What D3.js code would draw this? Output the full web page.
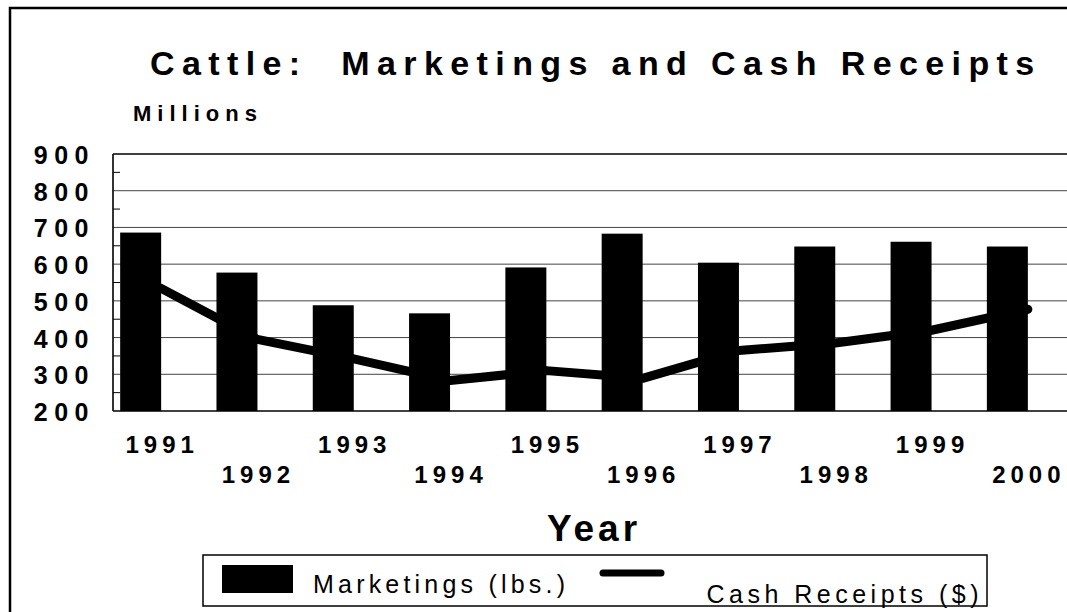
<!DOCTYPE html>
<html>
<head>
<meta charset="utf-8">
<script src="https://cdn.jsdelivr.net/npm/d3@7"></script>
<style>
  body { margin: 0; background: #fff; }
  text { font-family: 'Liberation Sans', Arial, Helvetica, sans-serif; fill: #000; }
  .bold { font-weight: bold; }
</style>
</head>
<body>
<script>
// ! Data
const years = ['1991', '1992', '1993', '1994', '1995', '1996', '1997', '1998', '1999', '2000'];
const marketings = [686, 577, 488, 466, 591, 683, 604, 648, 661, 648];
const cashReceipts = [534, 395, 342, 283, 310, 289, 365, 385, 420, 477];
const yTicks = [200, 300, 400, 500, 600, 700, 800, 900];
const yMinorTicks = [250, 350, 450, 550, 650, 750, 850];
const seriesNames = ['Marketings (lbs.)', 'Cash Receipts ($)'];

// * Size of the page
const width = 1067;
const height = 612;

const svg = d3
  .select('body')
  .append('svg')
  .attr('width', width)
  .attr('height', height);

// ! Plot area (runs past the right edge, like the scan)
const plot = { left: 113, right: 1076, top: 154, bottom: 411 };

const x = d3.scaleBand().domain(years).range([plot.left, plot.right]);
// * Two slots per year, the bar sits in the first one
const xSub = d3
  .scaleBand()
  .domain(seriesNames)
  .range([0, x.bandwidth()])
  .paddingOuter(0.175);
const y = d3.scaleLinear().domain([200, 900]).range([plot.bottom, plot.top]);

// * Outer frame
svg
  .append('path')
  .attr('d', `M10,${height} L10,8 L${width},8`)
  .attr('fill', 'none')
  .attr('stroke', '#000')
  .attr('stroke-width', 2.5);

// * Title
svg
  .append('text')
  .attr('class', 'bold')
  .attr('x', 150)
  .attr('y', 75)
  .style('font-size', '34px')
  .style('letter-spacing', '7.4px')
  .style('white-space', 'pre')
  .text('Cattle:  Marketings and Cash Receipts');

svg
  .append('text')
  .attr('class', 'bold')
  .attr('x', 133)
  .attr('y', 121)
  .style('font-size', '22px')
  .style('letter-spacing', '6px')
  .text('Millions');

// ! Gridlines
svg
  .append('g')
  .selectAll('line')
  .data(yTicks)
  .enter()
  .append('line')
  .attr('x1', plot.left)
  .attr('x2', plot.right)
  .attr('y1', (d) => y(d))
  .attr('y2', (d) => y(d))
  .attr('stroke', (d) => (d === 200 || d === 900 ? '#000' : '#444'))
  .attr('stroke-width', (d) => (d === 200 || d === 900 ? 1.6 : 1));

// * Minor ticks on the left axis
svg
  .append('g')
  .selectAll('line')
  .data(yMinorTicks)
  .enter()
  .append('line')
  .attr('x1', plot.left)
  .attr('x2', plot.left + 7)
  .attr('y1', (d) => y(d))
  .attr('y2', (d) => y(d))
  .attr('stroke', '#000')
  .attr('stroke-width', 1);

svg
  .append('line')
  .attr('x1', plot.left)
  .attr('x2', plot.left)
  .attr('y1', plot.top)
  .attr('y2', plot.bottom)
  .attr('stroke', '#000')
  .attr('stroke-width', 1.6);

// * Y labels
svg
  .append('g')
  .selectAll('text')
  .data(yTicks)
  .enter()
  .append('text')
  .attr('class', 'bold')
  .attr('x', 95)
  .attr('y', (d) => y(d) + 10)
  .attr('text-anchor', 'end')
  .style('font-size', '25px')
  .style('letter-spacing', '6.5px')
  .text((d) => d);

// ! Bars
svg
  .append('g')
  .selectAll('rect')
  .data(years)
  .enter()
  .append('rect')
  .attr('x', (d) => x(d) + xSub(seriesNames[0]))
  .attr('width', xSub.bandwidth())
  .attr('y', (d, i) => y(marketings[i]))
  .attr('height', (d, i) => y(200) - y(marketings[i]))
  .attr('fill', '#000');

// ! Line
const line = d3
  .line()
  .x((d, i) => x(years[i]) + x.bandwidth() / 2)
  .y((d) => y(d));

svg
  .append('path')
  .datum(cashReceipts)
  .attr('d', line)
  .attr('fill', 'none')
  .attr('stroke', '#000')
  .attr('stroke-width', 9)
  .attr('stroke-linecap', 'round')
  .attr('stroke-linejoin', 'round');

// * X labels, staggered on two rows
svg
  .append('g')
  .selectAll('text')
  .data(years)
  .enter()
  .append('text')
  .attr('class', 'bold')
  .attr('x', (d) => x(d) + x.bandwidth() / 2 + 1)
  .attr('y', (d, i) => (i % 2 === 0 ? 453 : 483))
  .attr('text-anchor', 'middle')
  .style('font-size', '24px')
  .style('letter-spacing', '5px')
  .text((d) => d);

svg
  .append('text')
  .attr('class', 'bold')
  .attr('x', 594)
  .attr('y', 541)
  .attr('text-anchor', 'middle')
  .style('font-size', '37px')
  .style('letter-spacing', '4px')
  .text('Year');

// ! Legend
const legend = svg.append('g');
legend
  .append('rect')
  .attr('x', 203)
  .attr('y', 555)
  .attr('width', 784)
  .attr('height', 51)
  .attr('fill', 'none')
  .attr('stroke', '#000')
  .attr('stroke-width', 1.5);
legend
  .append('rect')
  .attr('x', 222)
  .attr('y', 565)
  .attr('width', 71)
  .attr('height', 28)
  .attr('fill', '#000');
legend
  .append('text')
  .attr('x', 313)
  .attr('y', 593)
  .style('font-size', '25px')
  .style('letter-spacing', '4.2px')
  .text(seriesNames[0]);
legend
  .append('line')
  .attr('x1', 603)
  .attr('x2', 661)
  .attr('y1', 573)
  .attr('y2', 573)
  .attr('stroke', '#000')
  .attr('stroke-width', 7)
  .attr('stroke-linecap', 'round');
legend
  .append('text')
  .attr('x', 983)
  .attr('y', 603)
  .attr('text-anchor', 'end')
  .style('font-size', '25px')
  .style('letter-spacing', '4.5px')
  .text(seriesNames[1]);
</script>
</body>
</html>
